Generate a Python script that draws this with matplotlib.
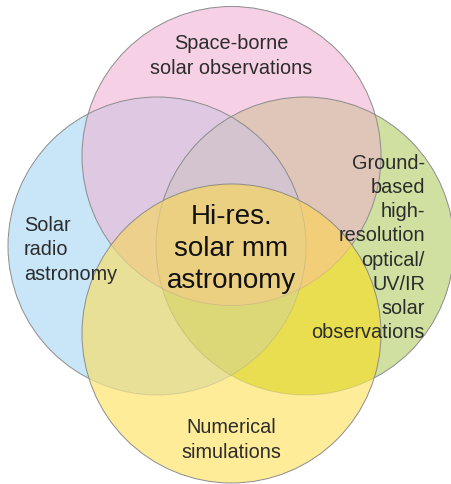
import numpy as np
import matplotlib.pyplot as plt
from matplotlib.patches import Circle, Polygon

# circles: pink (space), blue (radio), green (ground), yellow (simulations)
keys = ["P", "B", "G", "Y"]
cx = {"P": 231.5, "B": 157.0, "G": 305.0, "Y": 231.5}
cy = {"P": 157.0, "B": 247.0, "G": 247.0, "Y": 334.5}
rad = {"P": 149.5, "B": 149.0, "G": 149.0, "Y": 149.5}

# colour of each overlap region
region_colors = {
    "P": "#F6D0E4", "B": "#C8E6F8", "G": "#D0E0A0", "Y": "#FEEC98",
    "PB": "#DFC9E2", "PG": "#E0C6B9", "BG": "#D3C4D0", "PBG": "#D3C4D0",
    "PY": "#F0CE88", "BY": "#E8E096", "GY": "#E8DE50", "BGY": "#DCD878",
    "PBY": "#ECD08C", "PGY": "#F2CE78", "PBGY": "#ECD082",
}

labels = {
    "P": "Space-borne\nsolar observations",
    "B": "Solar\nradio\nastronomy",
    "G": "Ground-\nbased\nhigh-\nresolution\noptical/\nUV/IR\nsolar\nobservations",
    "Y": "Numerical\nsimulations",
}
center_label = "Hi-res.\nsolar mm\nastronomy"


def inter_poly(ks):
    # convex intersection of circles as a polygon
    t = np.linspace(0, 2 * np.pi, 2000, endpoint=False)
    pts = []
    for k in ks:
        x = cx[k] + rad[k] * np.cos(t)
        y = cy[k] + rad[k] * np.sin(t)
        m = np.ones_like(x, dtype=bool)
        for o in ks:
            if o != k:
                m &= (x - cx[o]) ** 2 + (y - cy[o]) ** 2 <= rad[o] ** 2 + 1e-6
        pts.append(np.column_stack([x[m], y[m]]))
    pts = np.vstack(pts)
    if len(pts) < 3:
        return None
    c = pts.mean(axis=0)
    order = np.argsort(np.arctan2(pts[:, 1] - c[1], pts[:, 0] - c[0]))
    return pts[order]


fig = plt.figure(figsize=(4.51, 4.85), dpi=100)
ax = fig.add_axes([0, 0, 1, 1])
ax.set_xlim(0, 451)
ax.set_ylim(485, 0)
ax.set_aspect("equal")
ax.axis("off")

order = sorted(region_colors.keys(), key=lambda s: (len(s), s))
edge = "#8c8c8c"

for s in order:
    z = 3 if "Y" in s else 1
    if len(s) == 1:
        ax.add_patch(Circle((cx[s], cy[s]), rad[s], facecolor=region_colors[s],
                            edgecolor="none", zorder=z))
    else:
        p = inter_poly(list(s))
        if p is not None:
            ax.add_patch(Polygon(p, closed=True, facecolor=region_colors[s],
                                 edgecolor="none", zorder=z + len(s) * 0.01))

ycirc = Circle((cx["Y"], cy["Y"]), rad["Y"], transform=ax.transData)
for k in ["B", "G", "P"]:
    ax.add_patch(Circle((cx[k], cy[k]), rad[k], fill=False, edgecolor=edge,
                        linewidth=0.7, zorder=2))
    faint = Circle((cx[k], cy[k]), rad[k], fill=False, edgecolor=edge,
                   linewidth=0.7, alpha=0.25, zorder=4)
    ax.add_patch(faint)
    faint.set_clip_path(ycirc)
ax.add_patch(Circle((cx["Y"], cy["Y"]), rad["Y"], fill=False, edgecolor=edge,
                    linewidth=0.7, zorder=5))

lab_font = dict(family=["Liberation Sans", "DejaVu Sans"],
                fontsize=14.3, color="#2c2c2c", zorder=6, linespacing=1.34)
ax.text(231.5, 56, labels["P"], ha="center", va="center", **lab_font)
ax.text(24, 250, labels["B"], ha="left", va="center", multialignment="left", **lab_font)
ax.text(425, 248, labels["G"], ha="right", va="center", multialignment="right", **lab_font)
ax.text(231.5, 440, labels["Y"], ha="center", va="center", **lab_font)
ax.text(231.5, 249, center_label, ha="center", va="center",
        family=["Liberation Sans", "DejaVu Sans"],
        fontsize=20, color="#111111", zorder=6, linespacing=1.29)

fig.savefig("out.png", dpi=100)
